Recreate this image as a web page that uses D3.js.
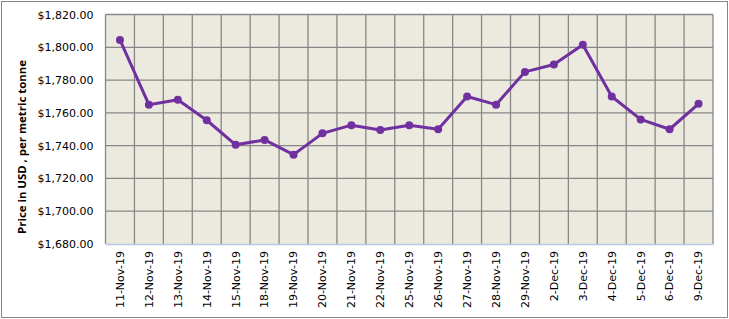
<!DOCTYPE html>
<html>
<head>
<meta charset="utf-8">
<script src="https://cdn.jsdelivr.net/npm/d3@7"></script>
<style>
  body { margin: 0; background: #fff; }
  svg text { font-family: "DejaVu Sans", sans-serif; }
</style>
</head>
<body>
<div id="chart"></div>
<script>
// dates on the x axis
const dates = ["11-Nov-19", "12-Nov-19", "13-Nov-19", "14-Nov-19", "15-Nov-19",
  "18-Nov-19", "19-Nov-19", "20-Nov-19", "21-Nov-19", "22-Nov-19", "25-Nov-19",
  "26-Nov-19", "27-Nov-19", "28-Nov-19", "29-Nov-19", "2-Dec-19", "3-Dec-19",
  "4-Dec-19", "5-Dec-19", "6-Dec-19", "9-Dec-19"];

// price, USD per metric tonne
const prices = [1804.5, 1765, 1768, 1755.5, 1740.5, 1743.5, 1734.5, 1747.5, 1752.5,
  1749.5, 1752.5, 1750, 1770, 1765, 1785, 1789.5, 1801.5, 1770, 1756, 1750, 1765.5];

const yTicks = [1680, 1700, 1720, 1740, 1760, 1780, 1800, 1820];

var width = 729, height = 319;
var margin = { top: 14.5, right: 16, bottom: 75, left: 105.5 };

var svg = d3.select("#chart")
  .append("svg")
  .attr("width", width)
  .attr("height", height);

// outer chart frame
svg.append("rect")
  .attr("x", 1.5).attr("y", 1.5)
  .attr("width", width - 3).attr("height", height - 3)
  .attr("fill", "#fff")
  .attr("stroke", "#868686");

var x = d3.scaleBand()
  .domain(dates)
  .range([margin.left, width - margin.right]);

var y = d3.scaleLinear()
  .domain([1680, 1820])
  .range([height - margin.bottom, margin.top]);

// plot area
svg.append("rect")
  .attr("x", x.range()[0]).attr("y", y(1820))
  .attr("width", x.range()[1] - x.range()[0])
  .attr("height", y(1680) - y(1820))
  .attr("fill", "#ece9df");

// horizontal gridlines
svg.append("g")
  .selectAll("line")
  .data(yTicks.slice(1))
  .enter()
  .append("line")
  .attr("x1", x.range()[0]).attr("x2", x.range()[1])
  .attr("y1", d => y(d)).attr("y2", d => y(d))
  .attr("stroke", "#878787").attr("stroke-width", 1.3);

// vertical gridlines at category boundaries
svg.append("g")
  .selectAll("line")
  .data(dates)
  .enter()
  .append("line")
  .attr("x1", d => x(d) + x.bandwidth()).attr("x2", d => x(d) + x.bandwidth())
  .attr("y1", y(1820)).attr("y2", y(1680))
  .attr("stroke", "#878787").attr("stroke-width", 1.3);

// left edge of plot area
svg.append("line")
  .attr("x1", x.range()[0]).attr("x2", x.range()[0])
  .attr("y1", y(1820)).attr("y2", y(1680))
  .attr("stroke", "#878787").attr("stroke-width", 1.3);

// y axis
var yAxis = svg.append("g")
  .attr("transform", "translate(" + x.range()[0] + ",0)")
  .call(d3.axisLeft(y).tickValues(yTicks).tickSize(0).tickPadding(12)
    .tickFormat(d => "$" + d3.format(",.2f")(d)));
yAxis.select(".domain").remove();
yAxis.selectAll("text").attr("font-size", "11px").attr("fill", "#000")
  .style("font-family", "'DejaVu Sans', sans-serif");

// x axis
var xAxis = svg.append("g")
  .attr("transform", "translate(0," + y(1680) + ")")
  .call(d3.axisBottom(x).tickSize(0).tickPadding(0));
xAxis.select(".domain").attr("stroke", "#b7c8e4").attr("stroke-width", 1.3);
xAxis.selectAll("text")
  .attr("font-size", "11px").attr("fill", "#000")
  .style("font-family", "'DejaVu Sans', sans-serif")
  .attr("transform", "rotate(-90)")
  .attr("text-anchor", "end")
  .attr("x", -7)
  .attr("y", 0)
  .attr("dy", "0.35em");

// axis title
svg.append("text")
  .attr("transform", "translate(26,147) rotate(-90)")
  .attr("text-anchor", "middle")
  .attr("font-size", "11.4px")
  .attr("font-weight", "bold")
  .style("font-family", "'Open Sans', sans-serif")
  .text("Price in USD , per metric tonne");

// price line
var line = d3.line()
  .x((d, i) => x(dates[i]) + x.bandwidth() / 2)
  .y(d => y(d));

svg.append("path")
  .datum(prices)
  .attr("d", line)
  .attr("fill", "none")
  .attr("stroke", "#7030a0")
  .attr("stroke-width", 3)
  .attr("stroke-linejoin", "round");

svg.append("g")
  .selectAll("circle")
  .data(prices)
  .enter()
  .append("circle")
  .attr("cx", (d, i) => x(dates[i]) + x.bandwidth() / 2)
  .attr("cy", d => y(d))
  .attr("r", 4)
  .attr("fill", "#7030a0");
</script>
</body>
</html>
